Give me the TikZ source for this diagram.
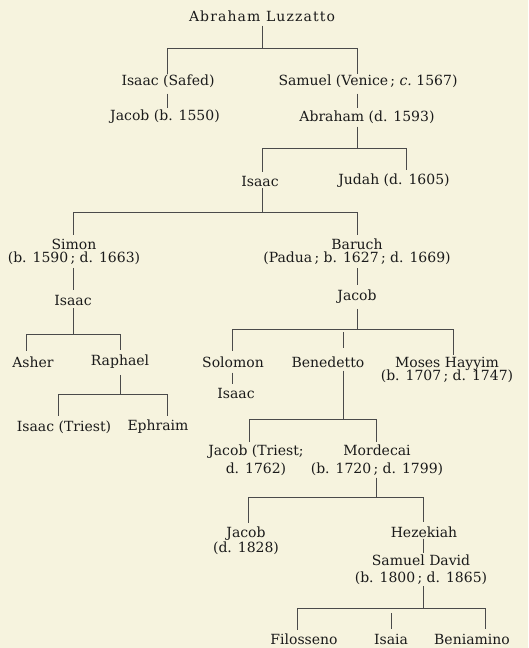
\documentclass[tikz,border=0pt]{standalone}
\usepackage{fontspec}
\setmainfont{DejaVu Serif}
\definecolor{bgc}{HTML}{F6F3DE}
\definecolor{inkc}{HTML}{1A1A1A}
\definecolor{linec}{HTML}{4A4A4A}
\setlength{\lineskiplimit}{-20pt}
\begin{document}
\begin{tikzpicture}[x=1pt,y=-1pt,
  person/.style={inner sep=0pt, align=center, text=inkc, font=\fontsize{14}{13}\selectfont},
  link/.style={draw=linec, line width=0.9pt}]
\fill[bgc] (0,0) rectangle (528,648);
\useasboundingbox (0,0) rectangle (528,648);

% people
\node[person] (a0) at (262,16) {\addfontfeature{LetterSpace=8}Abraham Luzzatto};
\node[person] (is) at (168,81) {Isaac (Safed)};
\node[person] (sv) at (368,81) {Samuel (Venice\,; \textit{c.}~1567)};
\node[person] (jb) at (165,117) {Jacob (b. 1550)};
\node[person] (ab) at (367,117) {Abraham (d. 1593)};
\node[person] (i2) at (260,181) {Isaac};
\node[person] (ju) at (394,181) {Judah (d. 1605)};
\node[person] (si) at (74,252) {Simon\\(b. 1590\,; d. 1663)};
\node[person] (ba) at (357,252) {Baruch\\(Padua\,; b. 1627\,; d. 1669)};
\node[person] (i3) at (73,300) {Isaac};
\node[person] (j3) at (357,297) {Jacob};
\node[person] (as) at (33,362) {Asher};
\node[person] (ra) at (120,362) {Raphael};
\node[person] (so) at (233,362) {Solomon};
\node[person] (be) at (328,362) {Benedetto};
\node[person] (mh) at (447,370) {Moses Hayyim\\(b. 1707\,; d. 1747)};
\node[person] (it) at (64,427) {Isaac (Triest)};
\node[person] (ep) at (158,427) {Ephraim};
\node[person] (i4) at (236,393) {Isaac};
\node[person] (jt) at (256,460) {Jacob (Triest;\\[5pt]d. 1762)};
\node[person] (mo) at (377,460) {Mordecai\\[5pt](b. 1720\,; d. 1799)};
\node[person] (j5) at (246,541) {Jacob\\[2pt](d. 1828)};
\node[person] (he) at (424,532) {Hezekiah};
\node[person] (sd) at (421,570) {Samuel David\\[4pt](b. 1800\,; d. 1865)};
\node[person] (fi) at (304,639) {Filosseno};
\node[person] (ia) at (391,639) {Isaia};
\node[person] (bn) at (472,639) {Beniamino};

% junction points on the bars
\coordinate (f1a) at (167,48);  \coordinate (f1b) at (357,48);
\coordinate (f3a) at (262,148); \coordinate (f3b) at (406,148);
\coordinate (f4a) at (73,212);  \coordinate (f4b) at (357,212);
\coordinate (f6a) at (26,334);  \coordinate (f6b) at (120,334);
\coordinate (f7a) at (232,329); \coordinate (f7m) at (343,329); \coordinate (f7b) at (453,329);
\coordinate (f8a) at (58,394);  \coordinate (f8b) at (167,394);
\coordinate (f10a) at (249,419); \coordinate (f10b) at (376,419);
\coordinate (f11a) at (248,497); \coordinate (f11b) at (423,497);
\coordinate (f13a) at (297,608); \coordinate (f13m) at (391,608); \coordinate (f13b) at (485,608);

% Abraham Luzzatto
\draw[link,shorten <=4pt] (a0.south) -- (a0.south |- f1a);
\draw[link] (f1a) -- (f1b);
\draw[link] (f1a) -- (f1a |- is.north);
\draw[link] (f1b) -- (f1b |- sv.north);
% single descents
\draw[link,shorten <=6pt,shorten >=2pt] (is.south -| f1a) -- (jb.north -| f1a);
\draw[link,shorten <=6pt,shorten >=2pt] (sv.south -| f1b) -- (ab.north -| f1b);
% Abraham (d. 1593)
\draw[link,shorten <=3pt] (ab.south -| f1b) -- (f1b |- f3a);
\draw[link] (f3a) -- (f3b);
\draw[link,shorten >=4pt] (f3a) -- (f3a |- i2.north);
\draw[link,shorten >=4pt] (f3b) -- (f3b |- ju.north);
% Isaac
\draw[link,shorten <=2pt] (i2.south -| f3a) -- (f3a |- f4a);
\draw[link] (f4a) -- (f4b);
\draw[link,shorten >=4pt] (f4a) -- (f4a |- si.north);
\draw[link,shorten >=4pt] (f4b) -- (f4b |- ba.north);
% Simon, Baruch
\draw[link,shorten <=3pt,shorten >=5pt] (si.south -| f4a) -- (i3.north -| f4a);
\draw[link,shorten <=3pt,shorten >=5pt] (ba.south -| f4b) -- (j3.north -| f4b);
% Isaac (son of Simon)
\draw[link,shorten <=3pt] (i3.south -| f4a) -- (f4a |- f6a);
\draw[link] (f6a) -- (f6b);
\draw[link,shorten >=5pt] (f6a) -- (f6a |- as.north);
\draw[link,shorten >=5pt] (f6b) -- (f6b |- ra.north);
% Jacob (son of Baruch)
\draw[link,shorten <=5pt] (j3.south -| f4b) -- (f4b |- f7a);
\draw[link] (f7a) -- (f7b);
\draw[link,shorten >=5pt] (f7a) -- (f7a |- so.north);
\draw[link,shorten <=3pt,shorten >=8pt] (f7m) -- (f7m |- be.north);
\draw[link,shorten >=2pt] (f7b) -- (f7b |- mh.north);
% Raphael
\draw[link,shorten <=6pt] (ra.south -| f6b) -- (f6b |- f8a);
\draw[link] (f8a) -- (f8b);
\draw[link,shorten >=4pt] (f8a) -- (f8a |- it.north);
\draw[link,shorten >=4pt] (f8b) -- (f8b |- ep.north);
% Solomon
\draw[link,shorten <=5pt,shorten >=4pt] (so.south -| f7a) -- (i4.north -| f7a);
% Benedetto
\draw[link,shorten <=3pt] (be.south -| f7m) -- (f7m |- f10a);
\draw[link] (f10a) -- (f10b);
\draw[link,shorten >=2pt] (f10a) -- (f10a |- jt.north);
\draw[link,shorten >=2pt] (f10b) -- (f10b |- mo.north);
% Mordecai
\draw[link,shorten <=2pt] (mo.south -| f10b) -- (f10b |- f11a);
\draw[link] (f11a) -- (f11b);
\draw[link,shorten >=4pt] (f11a) -- (f11a |- j5.north);
\draw[link,shorten >=4pt] (f11b) -- (f11b |- he.north);
% Hezekiah
\draw[link,shorten <=1pt,shorten >=2pt] (he.south -| f11b) -- (sd.north -| f11b);
% Samuel David
\draw[link,shorten <=1pt] (sd.south -| f11b) -- (f11b |- f13a);
\draw[link] (f13a) -- (f13b);
\draw[link,shorten >=3pt] (f13a) -- (f13a |- fi.north);
\draw[link,shorten <=5pt,shorten >=5pt] (f13m) -- (f13m |- ia.north);
\draw[link,shorten >=5pt] (f13b) -- (f13b |- bn.north);
\end{tikzpicture}
\end{document}
